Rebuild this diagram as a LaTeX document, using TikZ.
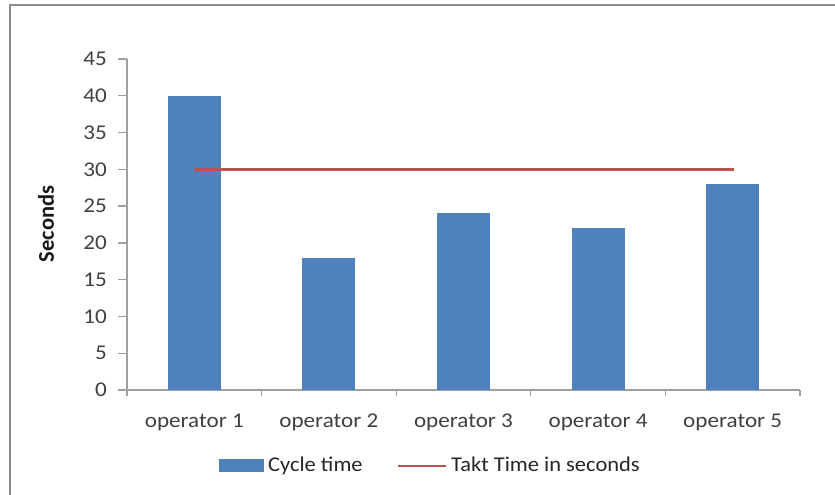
\documentclass[tikz,border=0pt]{standalone}
\usepackage{fontspec}
\setmainfont{Carlito}
\definecolor{barblue}{HTML}{4F81BD}
\definecolor{taktred}{HTML}{C0504D}
\definecolor{axisgray}{HTML}{A0A0A0}
\definecolor{framegray}{HTML}{8C8C8C}
\definecolor{labelgray}{HTML}{404040}
% slightly widened chart lettering
\newcommand{\wide}[1]{\scalebox{1.1}[1]{#1}}
\begin{document}
\begin{tikzpicture}[x=1pt,y=-1pt,
  axisline/.style={draw=axisgray,line width=1.3pt},
  bar/.style={fill=barblue,draw=none},
  taktline/.style={draw=taktred,line width=2.6pt},
  ticklabel/.style={text=labelgray,font=\fontsize{21}{24}\selectfont,inner sep=0pt},
  catlabel/.style={text=labelgray,font=\fontsize{21}{24}\selectfont,inner sep=0pt,anchor=base},
  legendtext/.style={text=black!85,font=\fontsize{21}{24}\selectfont,inner sep=0pt,anchor=base west}]
\useasboundingbox (0,0) rectangle (835,495);
\fill[white] (0,0) rectangle (835,495);
% chart frame (top and left edges)
\draw[framegray,line width=2pt] (9.5,495) -- (9.5,5.5) -- (835,5.5);
% value axis: 0 at y=390, 7.36 px per second
\def\yz{390}\def\ys{7.356}
\coordinate (ytop) at (127,59);
\coordinate (orig) at (127,390);
\coordinate (xend) at (800,390);
\draw[axisline] (ytop) -- (orig) -- (xend);
\foreach \v in {0,5,...,45}{
  \draw[axisline] (118,{\yz-\v*\ys}) -- (127,{\yz-\v*\ys});
  \node[ticklabel,anchor=east] (yl\v) at (107,{\yz-\v*\ys}) {\wide{\v}};
}
% category ticks
\foreach \i in {0,...,5}{
  \draw[axisline] ({127+\i*134.6},390) -- ({127+\i*134.6},396);
}
% bars
\foreach \i/\v in {1/40,2/18,3/24,4/22,5/28}{
  \fill[bar] ({127+(\i-0.5)*134.6-26.5},390) rectangle ({127+(\i-0.5)*134.6+26.5},{\yz-\v*\ys});
  \node[catlabel] (cat\i) at ({127+(\i-0.5)*134.6},427) {\wide{operator \i}};
}
% takt time line
\coordinate (takta) at (194,{\yz-30*\ys});
\coordinate (taktb) at (734,{\yz-30*\ys});
\draw[taktline] (takta) -- (taktb);
% axis title
\node[rotate=90,text=black!90,font=\bfseries\fontsize{22.5}{26}\selectfont,inner sep=0pt] (ytitle) at (46,224) {Seconds};
% legend
\fill[bar] (219,459) rectangle (264,472);
\node[legendtext] (lg1) at (268,471) {\scalebox{1.07}[1]{Cycle time}};
\coordinate (lga) at (398,466);
\coordinate (lgb) at (446,466);
\draw[taktline] (lga) -- (lgb);
\node[legendtext] (lg2) at (451,471) {\scalebox{1.07}[1]{Takt Time in seconds}};
\end{tikzpicture}
\end{document}
